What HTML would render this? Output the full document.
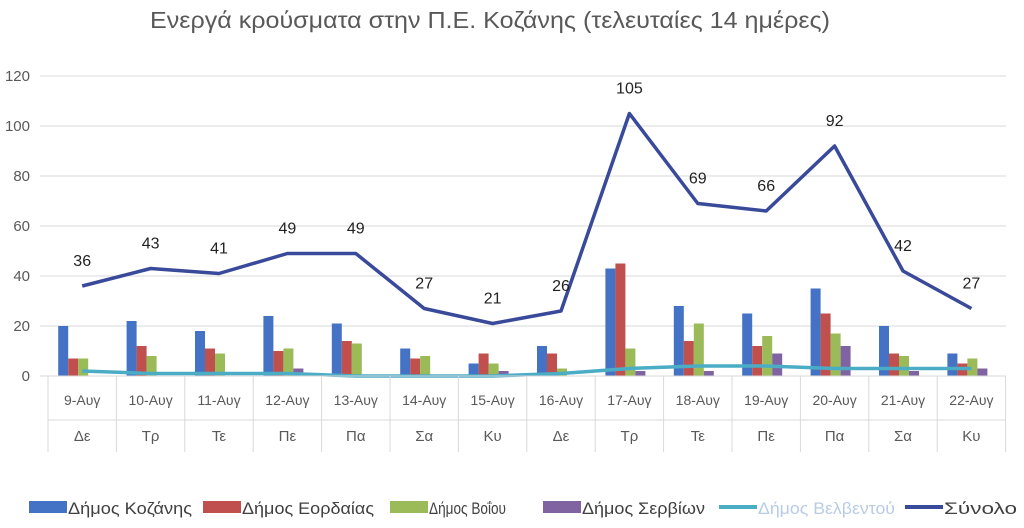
<!DOCTYPE html>
<html><head><meta charset="utf-8"><style>
body{margin:0;background:#fff;font-family:"Liberation Sans","DejaVu Sans",sans-serif;}
</style></head><body>
<svg id="c" width="1024" height="523" font-family="Liberation Sans, DejaVu Sans, sans-serif">
<text x="150" y="28" textLength="680" lengthAdjust="spacingAndGlyphs" font-size="23" fill="#595959">Ενεργά κρούσματα στην Π.Ε. Κοζάνης (τελευταίες 14 ημέρες)</text>
<g id="grid"></g><g id="bars"></g><g id="lines"></g><g id="axis"></g><g id="legend"></g>
</svg>
<script>
const dates=["9-Αυγ","10-Αυγ","11-Αυγ","12-Αυγ","13-Αυγ","14-Αυγ","15-Αυγ","16-Αυγ","17-Αυγ","18-Αυγ","19-Αυγ","20-Αυγ","21-Αυγ","22-Αυγ"];
const days=["Δε","Τρ","Τε","Πε","Πα","Σα","Κυ","Δε","Τρ","Τε","Πε","Πα","Σα","Κυ"];
const kozani=[20,22,18,24,21,11,5,12,43,28,25,35,20,9];
const eordaia=[7,12,11,10,14,7,9,9,45,14,12,25,9,5];
const voio=[7,8,9,11,13,8,5,3,11,21,16,17,8,7];
const servia=[0,0,0,3,0,0,2,0,2,2,9,12,2,3];
const velvento=[2,1,1,1,0,0,0,1,3,4,4,3,3,3];
const total=[36,43,41,49,49,27,21,26,105,69,66,92,42,27];
const yTicks=[0,20,40,60,80,100,120];
const NS="http://www.w3.org/2000/svg";
function mk(t,a,p,txt){const e=document.createElementNS(NS,t);for(const k in a)e.setAttribute(k,a[k]);if(txt!==undefined)e.textContent=txt;p.appendChild(e);return e;}
const x0=48,cw=68.4,y0=376,k=2.5;
const X=i=>x0+cw*i+cw/2, Y=v=>y0-v*k;
const G=document.getElementById('grid'),B=document.getElementById('bars'),L=document.getElementById('lines'),A=document.getElementById('axis'),LG=document.getElementById('legend');
yTicks.forEach(t=>{
 const l=mk('line',{x1:40,x2:1006,y1:Y(t),y2:Y(t),stroke:'#d9d9d9','stroke-width':1},G);
 
 const tx=mk('text',{x:30,y:Y(t)+5,'text-anchor':'end','font-size':15,fill:'#595959'},G,t);
 
});
const series=[[kozani,'#4472c4'],[eordaia,'#c0504d'],[voio,'#9bbb59'],[servia,'#8064a2']];
series.forEach((s,si)=>{s[0].forEach((v,i)=>{
 const r=mk('rect',{x:X(i)-24+si*10,y:Y(v),width:10,height:v*k,fill:s[1]},B);
 
});});
function line(arr,col,w,name){const p=mk('polyline',{points:arr.map((v,i)=>X(i)+','+Y(v)).join(' '),fill:'none',stroke:col,'stroke-width':w,'stroke-linejoin':'round'},L);
 }
line(velvento,'#4bacc6',3.5,'velvento-line');
line(total,'#3a4a9a',3.5,'total-line');
total.forEach((v,i)=>{const t=mk('text',{x:X(i),y:Y(v)-20,'text-anchor':'middle','font-size':16,fill:'#222'},L,v);
 });
mk('line',{x1:40,x2:1006,y1:y0,y2:y0,stroke:'#d9d9d9'},A);
for(let i=0;i<=14;i++){const l=mk('line',{x1:x0+cw*i,x2:x0+cw*i,y1:y0,y2:452,stroke:'#d9d9d9'},A);
 }
mk('line',{x1:x0,x2:1006,y1:420,y2:420,stroke:'#d9d9d9'},A);
dates.forEach((d,i)=>{const t=mk('text',{x:X(i),y:405,'text-anchor':'middle','font-size':14,fill:'#595959'},A,d);
 
 const t2=mk('text',{x:X(i),y:441,'text-anchor':'middle','font-size':15,fill:'#595959'},A,days[i]);
 });
const leg=[['Δήμος Κοζάνης','#4472c4',29,'rect',124],['Δήμος Εορδαίας','#c0504d',203,'rect',132],['Δήμος Βοΐου','#9bbb59',390,'rect',77],['Δήμος Σερβίων','#8064a2',543,'rect',123],['Δήμος Βελβεντού','#4bacc6',719,'line',137],['Σύνολο','#3a4a9a',905,'line',73]];
leg.forEach(l=>{const g=mk('g',{},LG);
 if(l[3]=='rect')mk('rect',{x:l[2],y:501,width:38,height:12,fill:l[1]},g);
 else mk('line',{x1:l[2],x2:l[2]+38,y1:507,y2:507,stroke:l[1],'stroke-width':4},g);
 mk('text',{x:l[2]+39,y:514,'font-size':17,textLength:l[4],lengthAdjust:'spacingAndGlyphs',fill:l[0]=='Δήμος Βελβεντού'?'#b8cce4':'#404040'},g,l[0]);});
</script>
</body></html>
